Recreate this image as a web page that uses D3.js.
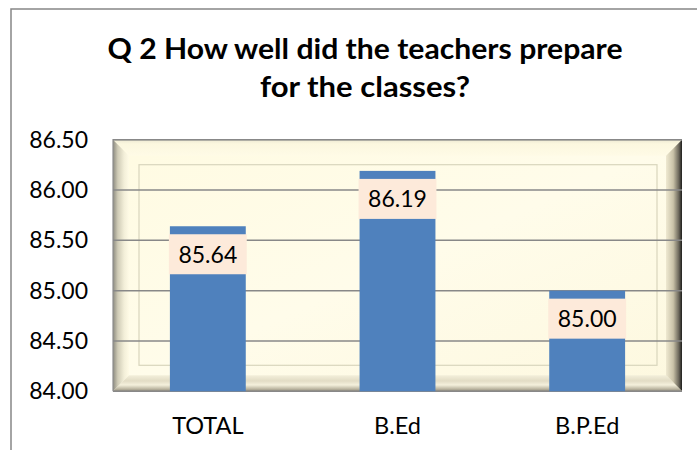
<!DOCTYPE html>
<head>
  <meta charset="utf-8">
  <script src="https://d3js.org/d3.v7.min.js"></script>
  <style>
    body { margin:0; background:#fff; }
    text { font-family: Lato, "Open Sans", sans-serif; fill:#000; }
  </style>
</head>
<body>
<script>

  // chart data
  var categories = ["TOTAL", "B.Ed", "B.P.Ed"];
  var values = [85.64, 86.19, 85.00];
  var tickValues = [84.0, 84.5, 85.0, 85.5, 86.0, 86.5];
  var titleLines = ["Q 2 How well did the teachers prepare", "for the classes?"];

  var width = 697, height = 450;

  var plot = { left: 113, top: 139.7, right: 682, bottom: 391.3 };
  var bevel = 16;

  var svg = d3.select("body").append("svg")
    .attr("width", width)
    .attr("height", height);

  var defs = svg.append("defs");

  function grad(id, x1, y1, x2, y2, stops) {
    var g = defs.append("linearGradient").attr("id", id)
      .attr("x1", x1).attr("y1", y1).attr("x2", x2).attr("y2", y2);
    stops.forEach(function(s){
      g.append("stop").attr("offset", s[0]).attr("stop-color", s[1]);
    });
  }

  grad("bgFill", 0, 0, 1, 1, [[0, "#fffbe2"], [0.5, "#fffcea"], [1, "#fdf8df"]]);
  grad("topBev", 0, 0, 0, 1, [[0, "#ece8d2"], [0.25, "#fbf7df"], [1, "#fffbe6"]]);
  grad("leftBev", 0, 0, 1, 0, [[0, "#8d8b80"], [0.3, "#cfcbb6"], [0.7, "#f3efd9"], [1, "#fffbe6"]]);
  grad("rightBev", 0, 0, 1, 0, [[0, "#efe9d1"], [0.45, "#c9c2a8"], [0.8, "#6b675b"], [1, "#1e1e1c"]]);
  grad("bottomBev", 0, 0, 0, 1, [[0, "#f3efda"], [0.35, "#e2dcc5"], [0.6, "#f4f0dc"], [0.85, "#bdb7a2"], [1, "#8e897a"]]);

  // outer chart border (clipped at right/bottom like the reference)
  svg.append("path")
    .attr("d", "M11," + height + " V9 H" + width)
    .attr("fill", "none")
    .attr("stroke", "#868686")
    .attr("stroke-width", 1.5);

  // title
  var titleWidths = [515, 210];
  var title = svg.append("g");
  titleLines.forEach(function(t, i){
    title.append("text")
      .attr("x", 365)
      .attr("y", 59 + i * 38)
      .attr("text-anchor", "middle")
      .attr("textLength", titleWidths[i])
      .attr("lengthAdjust", "spacingAndGlyphs")
      .style("font-size", "28px")
      .style("font-weight", "bold")
      .text(t);
  });

  var x = d3.scaleBand()
    .domain(categories)
    .range([plot.left, plot.right])
    .paddingInner(0.6)
    .paddingOuter(0.3);

  var y = d3.scaleLinear()
    .domain([84, 86.5])
    .range([plot.bottom, plot.top]);

  // picture-frame plot background
  var frame = svg.append("g");
  var L = plot.left, T = plot.top, R = plot.right, B = plot.bottom, b = bevel;

  frame.append("rect")
    .attr("x", L).attr("y", T)
    .attr("width", R - L).attr("height", B - T)
    .attr("fill", "url(#bgFill)");

  frame.append("path")
    .attr("d", "M" + L + "," + T + " L" + R + "," + T + " L" + (R - b) + "," + (T + b) + " L" + (L + b) + "," + (T + b) + "Z")
    .attr("fill", "url(#topBev)");
  frame.append("path")
    .attr("d", "M" + L + "," + T + " L" + (L + b) + "," + (T + b) + " L" + (L + b) + "," + (B - b) + " L" + L + "," + B + "Z")
    .attr("fill", "url(#leftBev)");
  frame.append("path")
    .attr("d", "M" + R + "," + T + " L" + R + "," + B + " L" + (R - b) + "," + (B - b) + " L" + (R - b) + "," + (T + b) + "Z")
    .attr("fill", "url(#rightBev)");
  frame.append("path")
    .attr("d", "M" + L + "," + B + " L" + (L + b) + "," + (B - b) + " L" + (R - b) + "," + (B - b) + " L" + R + "," + B + "Z")
    .attr("fill", "url(#bottomBev)");

  // faint inner mat line
  frame.append("rect")
    .attr("x", L + 26).attr("y", T + 25)
    .attr("width", R - L - 51).attr("height", B - T - 51)
    .attr("fill", "none")
    .attr("stroke", "#d9d5bd")
    .attr("stroke-width", 1.2);

  frame.append("path")
    .attr("d", "M" + L + "," + B + " V" + T + " H" + R)
    .attr("fill", "none")
    .attr("stroke", "#8f8f8f")
    .attr("stroke-width", 1.2);

  // gridlines
  svg.append("g")
    .selectAll("line")
    .data(tickValues)
    .join("line")
    .attr("x1", plot.left)
    .attr("x2", plot.right)
    .attr("y1", function(d){ return y(d); })
    .attr("y2", function(d){ return y(d); })
    .attr("stroke", "#888")
    .attr("stroke-width", 1.5);

  // y axis labels
  var yAxis = svg.append("g")
    .attr("transform", "translate(" + plot.left + ",0)")
    .call(d3.axisLeft(y).tickValues(tickValues).tickFormat(d3.format(".2f")).tickSize(0).tickPadding(25));
  yAxis.select(".domain").remove();
  yAxis.selectAll("text")
    .style("font-family", "Lato, 'Open Sans', sans-serif")
    .style("font-size", "23px")
    .attr("fill", "#000");

  // bars
  svg.append("g")
    .selectAll("rect")
    .data(values)
    .join("rect")
    .attr("x", function(d, i){ return x(categories[i]); })
    .attr("y", function(d){ return y(d); })
    .attr("width", x.bandwidth())
    .attr("height", function(d){ return y(84) - y(d); })
    .attr("fill", "#4f81bd");

  // value labels
  var lab = svg.append("g")
    .selectAll("g")
    .data(values)
    .join("g")
    .attr("transform", function(d, i){
      return "translate(" + (x(categories[i]) + x.bandwidth() / 2) + "," + (y(d) + 8) + ")";
    });
  lab.append("rect")
    .attr("x", -x.bandwidth() / 2 - 1)
    .attr("y", 0)
    .attr("width", x.bandwidth() + 2)
    .attr("height", 40)
    .attr("fill", "#fdeada");
  lab.append("text")
    .attr("y", 28.5)
    .attr("text-anchor", "middle")
    .style("font-size", "23px")
    .text(function(d){ return d3.format(".2f")(d); });

  // category labels
  svg.append("g")
    .selectAll("text")
    .data(categories)
    .join("text")
    .attr("x", function(d){ return x(d) + x.bandwidth() / 2; })
    .attr("y", 434)
    .attr("text-anchor", "middle")
    .style("font-size", "23.5px")
    .text(function(d){ return d; });

</script>
</body>
